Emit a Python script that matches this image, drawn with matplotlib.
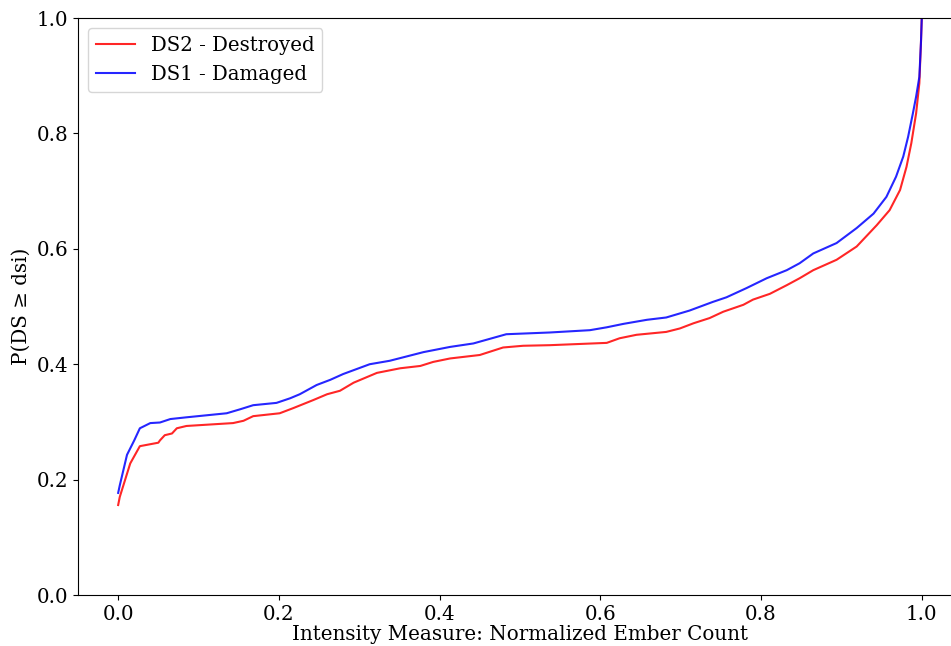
import matplotlib
matplotlib.use("Agg")
import matplotlib.pyplot as plt

plt.rcParams['font.family'] = ['DejaVu Serif']

ds1_x = [0, 0.002, 0.011, 0.02, 0.027, 0.040, 0.052, 0.065, 0.085, 0.135, 0.152, 0.168, 0.197,
         0.214, 0.226, 0.247, 0.264, 0.280, 0.313, 0.338, 0.380, 0.413, 0.442, 0.483, 0.537,
         0.587, 0.608, 0.629, 0.658, 0.682, 0.711, 0.740, 0.757, 0.782, 0.807, 0.832, 0.848,
         0.865, 0.894, 0.919, 0.940, 0.956, 0.968, 0.977, 0.983, 0.989, 0.993, 0.997, 0.999, 1.0]
ds1_y = [0.177, 0.19, 0.243, 0.268, 0.289, 0.298, 0.299, 0.305, 0.308, 0.315, 0.322, 0.329, 0.333,
         0.341, 0.348, 0.364, 0.373, 0.383, 0.400, 0.406, 0.421, 0.430, 0.436, 0.452, 0.455,
         0.459, 0.464, 0.470, 0.477, 0.481, 0.493, 0.508, 0.516, 0.532, 0.549, 0.563, 0.575,
         0.592, 0.610, 0.636, 0.661, 0.690, 0.725, 0.760, 0.794, 0.835, 0.864, 0.898, 0.957, 1.0]

ds2_x = [0, 0.002, 0.015, 0.027, 0.050, 0.052, 0.058, 0.067, 0.073, 0.085, 0.143, 0.156, 0.168,
         0.201, 0.218, 0.243, 0.260, 0.276, 0.293, 0.322, 0.351, 0.376, 0.392, 0.413, 0.450,
         0.479, 0.504, 0.537, 0.608, 0.624, 0.645, 0.682, 0.699, 0.716, 0.736, 0.753, 0.778,
         0.790, 0.811, 0.832, 0.848, 0.865, 0.894, 0.919, 0.944, 0.960, 0.973, 0.981, 0.987,
         0.993, 0.997, 0.999, 1.0]
ds2_y = [0.156, 0.170, 0.228, 0.258, 0.264, 0.268, 0.277, 0.280, 0.289, 0.293, 0.298, 0.302, 0.310,
         0.315, 0.324, 0.338, 0.348, 0.354, 0.368, 0.385, 0.393, 0.397, 0.404, 0.410, 0.416,
         0.429, 0.432, 0.433, 0.437, 0.445, 0.451, 0.456, 0.462, 0.471, 0.480, 0.491, 0.503,
         0.512, 0.522, 0.537, 0.549, 0.563, 0.581, 0.604, 0.641, 0.667, 0.702, 0.742, 0.783,
         0.835, 0.887, 0.957, 1.0]

labels = ["DS2 - Destroyed", "DS1 - Damaged"]
x_ticks = [0.0, 0.2, 0.4, 0.6, 0.8, 1.0]
y_ticks = [0.0, 0.2, 0.4, 0.6, 0.8, 1.0]

fig = plt.figure(figsize=(9.51, 6.46), dpi=100)
ax = fig.add_axes([0.0820, 0.0789, 0.9295, 0.8932])
ax.plot(ds2_x, ds2_y, color='red', alpha=0.85, lw=1.5, label=labels[0])
ax.plot(ds1_x, ds1_y, color='blue', alpha=0.85, lw=1.5, label=labels[1])
ax.set_xlim(-0.05, 1.05)
ax.set_ylim(0, 1)
ax.set_xticks(x_ticks)
ax.set_yticks(y_ticks)
ax.tick_params(labelsize=14.3)
ax.set_xlabel("Intensity Measure: Normalized Ember Count", fontsize=14.3, labelpad=1)
ax.set_ylabel("P(DS \u2265 dsi)", fontsize=14.3)
ax.legend(loc='upper left', fontsize=14.2)
fig.savefig("out.png", dpi=100)
